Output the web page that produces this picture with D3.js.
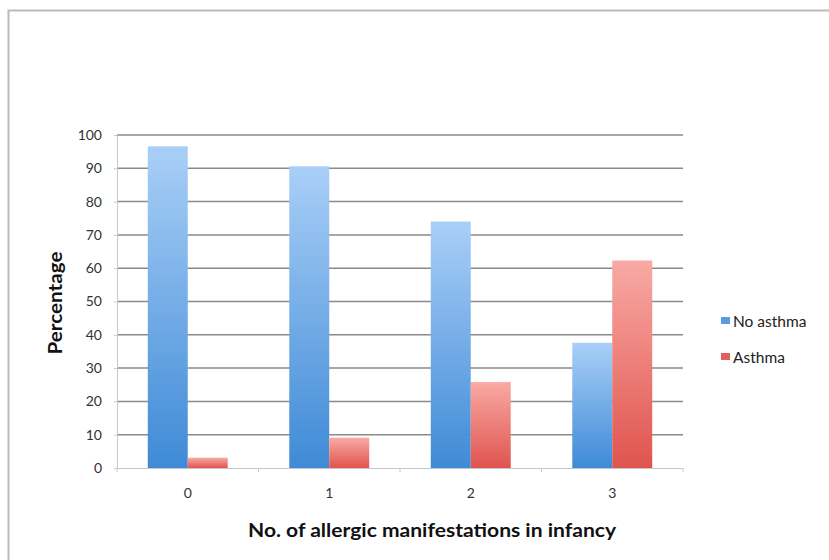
<!DOCTYPE html>
<html><head><meta charset="utf-8">
<script src="https://cdn.jsdelivr.net/npm/d3@7"></script>
<style>body{margin:0;background:#fff;} svg{display:block;font-family:Lato,"Open Sans",sans-serif;}</style>
</head><body>
<svg id="c" width="829" height="560"></svg>
<script>
const categories = ["0","1","2","3"];
const seriesNames = ["No asthma","Asthma"];
const noAsthma = [96.6, 90.6, 74, 37.6];
const asthma = [3.1, 9.1, 25.8, 62.3];
const yTicks = [0,10,20,30,40,50,60,70,80,90,100];

const svg = d3.select("#c");
// frame
svg.append("path").attr("d","M8.5,560 L8.5,10.5 L829,10.5").attr("fill","none").attr("stroke","#bbb").attr("stroke-width",2);

const m = {l:117, r:683, t:135, b:468};
const x = d3.scaleBand().domain(categories).range([m.l, m.r]);
const xs = d3.scaleBand().domain(seriesNames).range([0, x.bandwidth()]).paddingInner(0).paddingOuter(0.77);
const y = d3.scaleLinear().domain([0,100]).range([m.b, m.t]);

const defs = svg.append("defs");
const gb = defs.append("linearGradient").attr("id","gb").attr("x1",0).attr("y1",0).attr("x2",0).attr("y2",1);
gb.append("stop").attr("offset","0%").attr("stop-color","#a9cff7");
gb.append("stop").attr("offset","100%").attr("stop-color","#3f8ad6");
const gr = defs.append("linearGradient").attr("id","gr").attr("x1",0).attr("y1",0).attr("x2",0).attr("y2",1);
gr.append("stop").attr("offset","0%").attr("stop-color","#f9a9a4");
gr.append("stop").attr("offset","100%").attr("stop-color","#e0544e");

// gridlines
svg.append("g").selectAll("line").data(yTicks.filter(d=>d>0)).join("line")
  .attr("x1",m.l).attr("x2",m.r).attr("y1",d=>y(d)).attr("y2",d=>y(d))
  .attr("stroke","#8a8a8a").attr("stroke-width",1.5);

// y axis
const ya = svg.append("g").attr("transform",`translate(${m.l},0)`)
  .call(d3.axisLeft(y).tickValues(yTicks).tickSize(3).tickPadding(12));
ya.select(".domain").attr("stroke","#c8c8c8");
ya.selectAll(".tick line").attr("stroke","#c8c8c8");
ya.selectAll("text").attr("font-size",14).attr("fill","#333").attr("font-family","Lato,sans-serif");

// x axis
const xa = svg.append("g").attr("transform",`translate(0,${m.b})`)
  .call(d3.axisBottom(x).tickSize(0).tickPadding(20));
xa.select(".domain").attr("stroke","#c8c8c8");
xa.selectAll("text").attr("font-size",14).attr("fill","#333").attr("font-family","Lato,sans-serif");
svg.append("g").selectAll("line").data(d3.range(categories.length+1)).join("line")
  .attr("x1",i=>m.l + i*x.step()).attr("x2",i=>m.l + i*x.step())
  .attr("y1",m.b).attr("y2",m.b+4).attr("stroke","#c8c8c8");

// bars
const data = categories.map((c,i)=>({c, v:[noAsthma[i], asthma[i]]}));
const g = svg.append("g").selectAll("g").data(data).join("g").attr("transform",d=>`translate(${x(d.c)},0)`);
g.selectAll("rect").data(d=>d.v.map((v,j)=>({s:seriesNames[j], v, j}))).join("rect")
  .attr("x",d=>xs(d.s)).attr("width",xs.bandwidth())
  .attr("y",d=>y(d.v)).attr("height",d=>y(0)-y(d.v))
  .attr("fill",d=>d.j===0?"url(#gb)":"url(#gr)");

// axis titles
svg.append("text").attr("transform","translate(62,303) rotate(-90)").attr("text-anchor","middle")
  .attr("font-size",19).attr("font-weight","bold").attr("fill","#111")
  .attr("textLength",103).attr("lengthAdjust","spacingAndGlyphs").text("Percentage");
svg.append("text").attr("x",432).attr("y",537).attr("text-anchor","middle")
  .attr("font-size",19).attr("font-weight","bold").attr("fill","#111")
  .attr("textLength",368).attr("lengthAdjust","spacingAndGlyphs").text("No. of allergic manifestations in infancy");

// legend
const lg = svg.append("g").selectAll("g").data(seriesNames).join("g")
  .attr("transform",(d,i)=>`translate(721,${322 + i*36})`);
lg.append("rect").attr("x",0).attr("y",-5).attr("width",9).attr("height",7)
  .attr("fill",(d,i)=>i===0?"#5b9be0":"#e0605a");
lg.append("text").attr("x",12).attr("y",1).attr("dominant-baseline","middle")
  .attr("font-size",15.5).attr("fill","#222").text(d=>d);
</script>
</body></html>
